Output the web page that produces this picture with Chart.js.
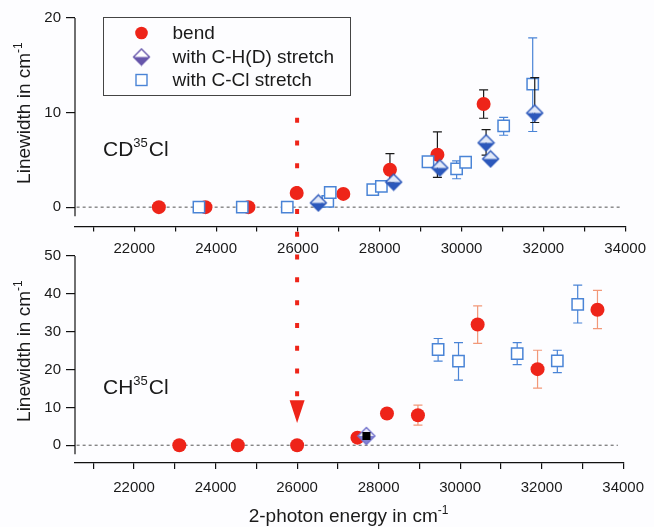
<!DOCTYPE html>
<html>
<head>
<meta charset="utf-8">
<script src="https://cdn.jsdelivr.net/npm/chart.js@4.4.0/dist/chart.umd.min.js"></script>
<style>
  html, body { margin: 0; padding: 0; background: #fdfdff; }
  #wrap { position: relative; width: 654px; height: 527px; }
  #wrap canvas { position: absolute; left: 0; top: 0; }
</style>
</head>
<body>
<div id="wrap">
  <canvas id="cdChart" width="654" height="527"></canvas>
  <canvas id="chChart" width="654" height="527"></canvas>
</div>
<script>
// Legend / series names
const legendLabels = ['bend', 'with C-H(D) stretch', 'with C-Cl stretch'];

// Axis ticks
const xTicks = [21000, 22000, 23000, 24000, 25000, 26000, 27000, 28000, 29000, 30000, 31000, 32000, 33000, 34000];
const xTickLabels = [22000, 24000, 26000, 28000, 30000, 32000, 34000];
const cdYTicks = [0, 10, 20];
const chYTicks = [0, 10, 20, 30, 40, 50];
const zeroLineX = [20590, 33870];

// CD35Cl panel (top)
const cdBendX = [22600, 23740, 24790, 25970, 27110, 28250, 29410, 30540];
const cdBendY = [0, 0, 0, 1.5, 1.4, 3.95, 5.55, 10.9];
const cdBendLo = [null, null, null, 1.2, 1.1, 2.6, 3.15, 9.4];
const cdBendHi = [null, null, null, 1.8, 1.7, 5.65, 7.95, 12.4];

const cdCHX = [26500, 28340, 29470, 30600, 30710, 31790];
const cdCHY = [0.45, 2.65, 4.15, 6.8, 5.1, 9.95];
const cdCHLo = [null, null, null, 5.5, null, 8.95];
const cdCHHi = [null, null, null, 8.2, null, 13.7];

const cdCClX = [23580, 24640, 25740, 26730, 26790, 27830, 28040, 29180, 29880, 30100, 31030, 31740];
const cdCClY = [0, 0, 0, 0.6, 1.55, 1.85, 2.2, 4.8, 4.05, 4.75, 8.6, 13.0];
const cdCClLo = [null, null, null, 0.2, 1.2, null, null, 4.3, 3.0, null, 7.6, 8.0];
const cdCClHi = [null, null, null, 1.0, 1.9, null, null, 5.3, 4.9, null, 9.5, 17.9];

// CH35Cl panel (bottom)
const chBendX = [23110, 24545, 26000, 27480, 28205, 28965, 30430, 31900, 33370];
const chBendY = [0, 0, 0, 2.0, 8.4, 7.9, 31.9, 20.1, 35.8];
const chBendLo = [null, null, null, null, null, 5.3, 26.9, 15.1, 30.8];
const chBendHi = [null, null, null, null, null, 10.6, 36.8, 25.1, 40.9];

const chCHX = [27700];
const chCHY = [2.45];

const chCClX = [29460, 29960, 31400, 32385, 32885];
const chCClY = [25.3, 22.2, 24.2, 22.3, 37.2];
const chCClLo = [22.2, 17.2, 21.3, 19.2, 32.3];
const chCClHi = [28.2, 27.1, 27.1, 25.1, 42.3];

// 26000 cm-1 marker: dotted line from top panel down to arrow in bottom panel
const markerX = 26000;
const markerTopValue = 9.45;   // top panel units
const arrowTopValue = 11.9;    // bottom panel units
const arrowTipValue = 5.9;

const FONT = "'Liberation Sans', Arial, sans-serif";
const RED = '#ee2419';
const BLUE = '#4a84d6';
const INK = '#1a1a1a';

Chart.defaults.font.family = FONT;
Chart.defaults.color = INK;

const pts = (xs, ys) => xs.map((x, i) => ({ x: x, y: ys[i] }));

function makeDiamond(half, edge, topFill, bottomFill, core) {
  const s = Math.ceil(half * 2 + 3);
  const c = document.createElement('canvas');
  c.width = c.height = s;
  const g = c.getContext('2d');
  const m = s / 2;
  g.beginPath(); g.moveTo(m - half, m); g.lineTo(m, m - half); g.lineTo(m + half, m); g.closePath();
  g.fillStyle = topFill; g.fill();
  g.beginPath(); g.moveTo(m - half, m); g.lineTo(m, m + half); g.lineTo(m + half, m); g.closePath();
  g.fillStyle = bottomFill; g.fill();
  g.beginPath(); g.moveTo(m - half, m); g.lineTo(m, m - half); g.lineTo(m + half, m); g.lineTo(m, m + half); g.closePath();
  g.strokeStyle = edge; g.lineWidth = 1.4; g.stroke();
  if (core) { g.fillStyle = core; g.fillRect(m - 4, m - 4, 8, 8); }
  return c;
}

const diamondBlue = makeDiamond(8, '#2c58bb', '#e2e9f8', '#2c58bb');
const diamondLegend = makeDiamond(8, '#6656ab', '#ffffff', '#6656ab');
const diamondCH = makeDiamond(8.5, '#7474cc', '#ececfa', '#8282d4', '#000');

// text with superscripts: parts = [[text, isSup], ...]
function drawRich(ctx, x, y, parts, size, align) {
  const supSize = Math.round(size * 0.64);
  let total = 0;
  parts.forEach(p => {
    ctx.font = (p[1] ? supSize : size) + 'px ' + FONT;
    total += ctx.measureText(p[0]).width + (p[1] ? 1 : 0);
  });
  let cx = align === 'center' ? x - total / 2 : x;
  ctx.textAlign = 'left';
  ctx.textBaseline = 'alphabetic';
  ctx.fillStyle = INK;
  parts.forEach(p => {
    ctx.font = (p[1] ? supSize : size) + 'px ' + FONT;
    ctx.fillText(p[0], cx, p[1] ? y - size * 0.44 : y);
    cx += ctx.measureText(p[0]).width + (p[1] ? 1 : 0);
  });
}

const errorBars = {
  id: 'errorBars',
  beforeDatasetDraw(chart, args) {
    const ds = chart.data.datasets[args.index];
    if (!ds.errLo) return;
    const { ctx, scales: { x, y } } = chart;
    ctx.save();
    ctx.strokeStyle = ds.errColor;
    ctx.lineWidth = 1.2;
    ds.data.forEach((p, i) => {
      if (ds.errLo[i] == null) return;
      const px = x.getPixelForValue(p.x);
      const lo = y.getPixelForValue(ds.errLo[i]);
      const hi = y.getPixelForValue(ds.errHi[i]);
      ctx.beginPath();
      ctx.moveTo(px, lo); ctx.lineTo(px, hi);
      ctx.moveTo(px - 4.5, lo); ctx.lineTo(px + 4.5, lo);
      ctx.moveTo(px - 4.5, hi); ctx.lineTo(px + 4.5, hi);
      ctx.stroke();
    });
    ctx.restore();
  }
};

const decorations = {
  id: 'decorations',
  afterDraw(chart, args, o) {
    const { ctx, chartArea: a, scales: { x, y } } = chart;
    ctx.save();
    // y axis line (stops a little below zero, as in the figure)
    ctx.strokeStyle = '#111';
    ctx.lineWidth = 1.2;
    ctx.beginPath();
    ctx.moveTo(a.left, y.getPixelForValue(y.max));
    ctx.lineTo(a.left, y.getPixelForValue(0) + 9);
    ctx.stroke();

    // panel label
    drawRich(ctx, a.left + 28, a.top + 138, o.panel, 21, 'left');

    // y title
    const cy = (y.getPixelForValue(0) + y.getPixelForValue(y.max)) / 2;
    ctx.save();
    ctx.translate(30, cy);
    ctx.rotate(-Math.PI / 2);
    drawRich(ctx, 0, 0, [['Linewidth in cm', false], ['-1', true]], 19, 'center');
    ctx.restore();

    if (o.xTitle) {
      drawRich(ctx, (a.left + a.right) / 2, a.bottom + 59, [['2-photon energy in cm', false], ['-1', true]], 19, 'center');
    }

    if (o.legend) {
      const lx = a.left + 28, ly = a.top - 1, lw = 247, lh = 78;
      ctx.strokeStyle = '#444';
      ctx.lineWidth = 1;
      ctx.strokeRect(lx + 0.5, ly + 0.5, lw, lh);
      const rows = [ly + 16, ly + 40, ly + 63];
      const mx = lx + 38.5;
      ctx.fillStyle = RED;
      ctx.beginPath(); ctx.arc(mx, rows[0], 6.3, 0, Math.PI * 2); ctx.fill();
      ctx.drawImage(diamondLegend, mx - diamondLegend.width / 2, rows[1] - diamondLegend.height / 2);
      ctx.fillStyle = '#fff';
      ctx.strokeStyle = BLUE; ctx.lineWidth = 1.4;
      ctx.fillRect(mx - 5.5, rows[2] - 5.5, 11, 11);
      ctx.strokeRect(mx - 5.5, rows[2] - 5.5, 11, 11);
      ctx.fillStyle = INK;
      ctx.font = '19px ' + FONT;
      ctx.textAlign = 'left';
      ctx.textBaseline = 'middle';
      legendLabels.forEach((t, i) => ctx.fillText(t, lx + 69.5, rows[i] + 1));
    }

    if (o.marker) {
      const top = o.marker();
      const px = x.getPixelForValue(markerX);
      const aTop = y.getPixelForValue(arrowTopValue);
      const aTip = y.getPixelForValue(arrowTipValue);
      ctx.strokeStyle = RED;
      ctx.lineWidth = 4;
      ctx.setLineDash([5, 17.8]);
      ctx.beginPath();
      ctx.moveTo(px, top);
      ctx.lineTo(px, aTop);
      ctx.stroke();
      ctx.setLineDash([]);
      ctx.fillStyle = RED;
      ctx.beginPath();
      ctx.moveTo(px - 7.5, aTop);
      ctx.lineTo(px + 7.5, aTop);
      ctx.lineTo(px, aTip);
      ctx.closePath();
      ctx.fill();
    }
    ctx.restore();
  }
};

function zeroLine() {
  return {
    data: zeroLineX.map(v => ({ x: v, y: 0 })),
    showLine: true, borderColor: '#555', borderWidth: 1, borderDash: [3, 3],
    pointRadius: 0, order: 9
  };
}

function xAxis(tickLen, pad) {
  return {
    type: 'linear', min: 20550, max: 34000,
    afterFit: s => { s.height = 40; },
    afterBuildTicks: s => { s.ticks = xTicks.map(v => ({ value: v })); },
    grid: { drawOnChartArea: false, tickLength: tickLen, color: '#111', lineWidth: 1.2 },
    border: { display: true, color: '#111', width: 1.2 },
    ticks: {
      autoSkip: false, maxRotation: 0, padding: pad,
      font: { size: 15 }, color: INK,
      callback: v => xTickLabels.includes(v) ? String(v) : ''
    }
  };
}

function yAxis(min, max, ticks) {
  return {
    type: 'linear', min: min, max: max,
    afterFit: s => { s.width = 75; },
    afterBuildTicks: s => { s.ticks = ticks.map(v => ({ value: v })); },
    grid: { drawOnChartArea: false, tickLength: 9, color: '#111', lineWidth: 1.2 },
    border: { display: false },
    ticks: { padding: 5, font: { size: 15 }, color: INK }
  };
}

const common = {
  responsive: false,
  animation: false,
  devicePixelRatio: 1,
  events: [],
  plugins: { legend: { display: false }, tooltip: { enabled: false } }
};

const cdChart = new Chart(document.getElementById('cdChart'), {
  type: 'scatter',
  data: {
    datasets: [
      { label: legendLabels[0], data: pts(cdBendX, cdBendY), pointStyle: 'circle', pointRadius: 7,
        backgroundColor: RED, borderWidth: 0, errLo: cdBendLo, errHi: cdBendHi, errColor: INK, order: 3 },
      { label: legendLabels[1], data: pts(cdCHX, cdCHY), pointStyle: diamondBlue, pointRadius: 8,
        errLo: cdCHLo, errHi: cdCHHi, errColor: INK, order: 1 },
      { label: legendLabels[2], data: pts(cdCClX, cdCClY), pointStyle: 'rect', pointRadius: 8,
        backgroundColor: '#fff', borderColor: BLUE, borderWidth: 1.5,
        errLo: cdCClLo, errHi: cdCClHi, errColor: BLUE, order: 2 },
      zeroLine()
    ]
  },
  options: Object.assign({}, common, {
    layout: { padding: { left: 0, right: 24, top: 18, bottom: 260 } },
    scales: { x: xAxis(4.5, 8), y: yAxis(-2.1, 20, cdYTicks) },
    plugins: Object.assign({}, common.plugins, {
      decorations: { panel: [['CD', false], ['35', true], ['Cl', false]], legend: true }
    })
  }),
  plugins: [errorBars, decorations]
});

new Chart(document.getElementById('chChart'), {
  type: 'scatter',
  data: {
    datasets: [
      { label: legendLabels[0], data: pts(chBendX, chBendY), pointStyle: 'circle', pointRadius: 7,
        backgroundColor: RED, borderWidth: 0, errLo: chBendLo, errHi: chBendHi, errColor: '#f29878', order: 3 },
      { label: legendLabels[1], data: pts(chCHX, chCHY), pointStyle: diamondCH, pointRadius: 8, order: 1 },
      { label: legendLabels[2], data: pts(chCClX, chCClY), pointStyle: 'rect', pointRadius: 8,
        backgroundColor: '#fff', borderColor: BLUE, borderWidth: 1.5,
        errLo: chCClLo, errHi: chCClHi, errColor: BLUE, order: 2 },
      zeroLine()
    ]
  },
  options: Object.assign({}, common, {
    layout: { padding: { left: 0, right: 24, top: 256, bottom: 24 } },
    scales: { x: xAxis(6, 10), y: yAxis(-4.7, 50, chYTicks) },
    plugins: Object.assign({}, common.plugins, {
      decorations: {
        panel: [['CH', false], ['35', true], ['Cl', false]],
        xTitle: true,
        marker: () => cdChart.scales.y.getPixelForValue(markerTopValue)
      }
    })
  }),
  plugins: [errorBars, decorations]
});
</script>
</body>
</html>
